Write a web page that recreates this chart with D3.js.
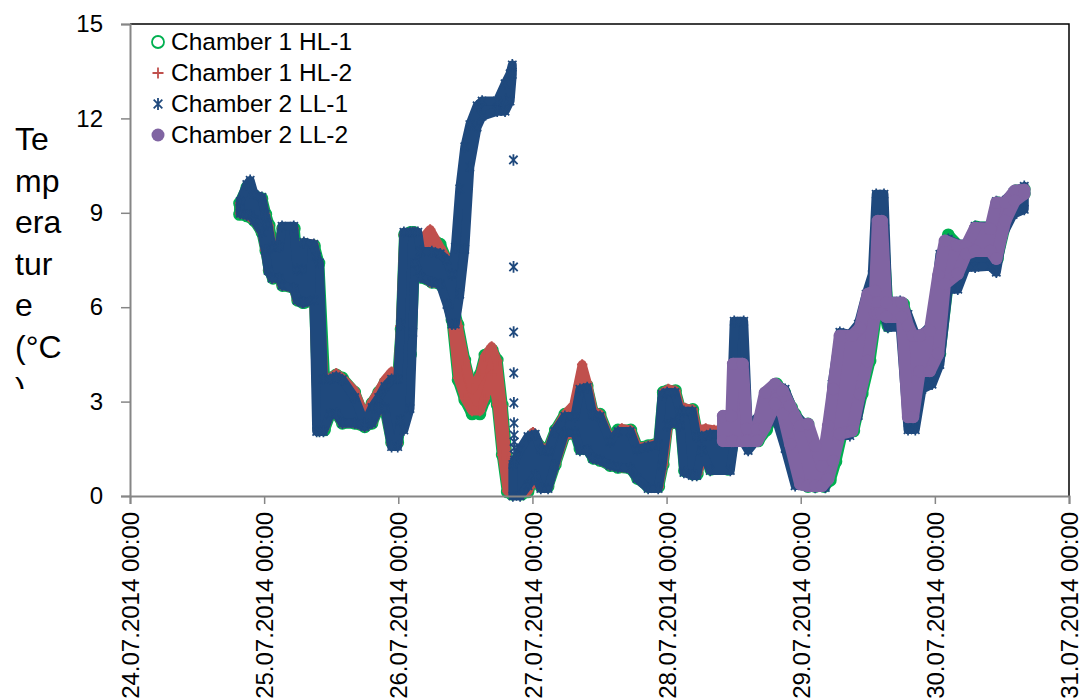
<!DOCTYPE html>
<html>
<head>
<meta charset="utf-8">
<script src="https://cdn.jsdelivr.net/npm/d3@7"></script>
<style>
  body { margin: 0; background: #fff; }
  text { font-family: "Liberation Sans", Arial, sans-serif; fill: #000; }
</style>
</head>
<body>
<svg id="chart" width="1081" height="699"></svg>
<script>
// Logger readings, 24.07.2014 – 30.07.2014.
// Each row: [hours since 24.07.2014 00:00, upper reading (°C), lower reading (°C)]
// Each sensor flickers quickly, so the readings for every moment are kept as a band.
const seriesNames = ["Chamber 1 HL-1", "Chamber 1 HL-2", "Chamber 2 LL-1", "Chamber 2 LL-2"];

const hl1 = [
  [19.6, 9.30, 8.95], [20.9, 9.80, 8.90], [22.2, 9.55, 8.76], [23.6, 9.45, 8.38],
  [24.3, 8.95, 7.80], [24.9, 8.60, 7.17], [25.6, 7.90, 6.92], [26.8, 7.90, 6.92],
  [27.3, 8.50, 6.69], [29.4, 8.50, 6.60], [30.0, 7.20, 6.22], [30.9, 7.20, 6.15],
  [31.2, 8.00, 6.15], [33.0, 7.95, 6.22], [33.8, 7.40, 2.10], [34.8, 3.75, 2.10],
  [35.8, 3.75, 2.59], [36.9, 3.85, 2.62], [38.0, 3.75, 2.31], [40.2, 3.30, 2.31],
  [42.0, 2.45, 2.20], [43.3, 2.95, 2.31], [44.5, 3.30, 2.78], [45.6, 3.60, 2.78],
  [46.8, 3.80, 1.70], [47.9, 3.80, 1.70], [48.5, 5.30, 2.50], [49.1, 8.30, 4.00],
  [50.2, 8.38, 4.50], [50.8, 8.38, 7.00], [52.0, 8.10, 6.95], [54.0, 8.20, 6.79],
  [55.5, 8.00, 6.73], [56.7, 7.50, 6.39], [57.6, 6.23, 5.60], [58.7, 5.44, 3.69],
  [59.9, 4.32, 3.05], [61.2, 3.37, 2.61], [62.6, 3.85, 2.61], [63.5, 4.48, 3.05],
  [64.8, 4.64, 3.85], [65.7, 4.32, 2.89], [66.6, 2.89, 1.30], [67.5, 1.14, 0.13],
  [68.3, 0.41, 0.06], [70.1, 0.41, 0.06], [71.2, 1.62, 0.13], [72.1, 1.94, 0.51],
  [73.5, 1.55, 0.30], [74.8, 1.50, 0.30], [76.1, 2.10, 1.00], [77.8, 2.60, 1.92],
  [79.6, 2.60, 2.02], [80.5, 3.50, 1.50], [81.8, 3.50, 1.50], [82.9, 2.65, 1.20],
  [84.1, 2.60, 1.13], [85.9, 1.80, 0.97], [87.3, 2.10, 0.91], [89.6, 2.10, 0.87],
  [90.8, 1.55, 0.56], [92.7, 1.60, 0.30], [94.6, 1.70, 0.30], [95.4, 3.30, 1.00],
  [96.2, 3.35, 2.24], [97.6, 3.35, 2.34], [98.5, 2.75, 2.24], [99.2, 2.75, 0.80],
  [100.7, 2.75, 0.70], [101.5, 2.00, 0.70], [102.4, 2.00, 1.45], [103.9, 2.00, 0.85],
  [107.0, 2.00, 0.85], [108.0, 2.60, 1.75], [110.4, 2.30, 1.75], [112.4, 2.20, 1.75],
  [113.9, 3.28, 2.10], [115.7, 3.56, 2.85], [117.1, 3.30, 2.55], [118.4, 2.80, 1.60],
  [119.0, 2.60, 1.20], [120.2, 2.30, 0.38], [121.3, 2.29, 0.30], [122.6, 1.50, 0.30],
  [124.2, 0.75, 0.30], [125.3, 2.20, 0.50], [126.3, 3.40, 1.10], [127.4, 5.10, 1.97],
  [129.5, 5.10, 2.07], [131.0, 5.30, 3.24], [132.4, 6.40, 4.29], [133.6, 6.50, 5.79],
  [134.1, 8.60, 5.79], [134.7, 8.60, 5.79], [135.6, 6.00, 5.40], [138.4, 6.10, 5.50],
  [139.5, 5.40, 2.51], [140.4, 5.09, 2.51], [141.6, 5.09, 3.97], [143.4, 5.25, 3.97],
  [144.9, 7.00, 4.52], [146.4, 8.30, 6.74], [148.3, 7.95, 7.06], [149.8, 7.95, 7.69],
  [151.4, 8.55, 7.79], [154.1, 8.55, 7.79], [155.2, 9.32, 7.54], [156.8, 9.32, 8.74],
  [158.5, 9.70, 9.38], [160.0, 9.75, 9.60]
];

const hl2 = [
  [19.7, 9.30, 8.98], [20.9, 9.75, 8.92], [22.2, 9.55, 8.76], [23.6, 9.45, 8.38],
  [24.2, 8.95, 7.80], [24.8, 8.60, 7.17], [25.5, 7.90, 6.92], [26.7, 7.90, 6.92],
  [27.2, 8.50, 6.69], [29.3, 8.50, 6.60], [29.9, 7.20, 6.22], [30.8, 7.20, 6.15],
  [31.1, 8.05, 6.15], [32.9, 8.00, 6.22], [33.6, 7.40, 2.10], [34.7, 3.75, 2.10],
  [35.8, 3.75, 2.59], [36.9, 3.90, 2.62], [38.0, 3.75, 2.31], [40.2, 3.35, 2.31],
  [42.0, 2.55, 2.20], [43.3, 3.00, 2.31], [44.5, 3.35, 2.78], [45.6, 3.70, 2.78],
  [46.8, 3.95, 1.65], [47.9, 3.85, 1.65], [48.4, 5.40, 2.50], [49.0, 8.30, 3.00],
  [50.1, 8.38, 4.00], [50.8, 8.38, 7.00], [52.4, 8.20, 6.95], [53.7, 8.47, 6.79],
  [55.5, 7.90, 6.73], [56.7, 7.55, 6.35], [57.6, 6.30, 5.60], [58.7, 5.40, 3.75],
  [59.9, 4.30, 3.10], [61.2, 3.40, 2.70], [62.6, 3.85, 2.70], [63.5, 4.45, 3.10],
  [64.7, 4.75, 3.85], [65.7, 4.30, 2.90], [66.6, 2.85, 1.30], [67.5, 1.10, 0.15],
  [68.3, 0.40, 0.08], [70.1, 0.40, 0.08], [71.2, 1.60, 0.15], [72.1, 2.03, 0.50],
  [73.5, 1.55, 0.28], [74.8, 1.50, 0.28], [76.1, 2.10, 1.00], [77.8, 2.60, 1.92],
  [79.4, 2.90, 2.00], [80.9, 4.18, 1.50], [81.8, 3.60, 1.50], [82.9, 2.70, 1.20],
  [84.1, 2.60, 1.13], [85.9, 1.80, 0.97], [88.0, 2.15, 0.91], [89.6, 2.10, 0.87],
  [90.8, 1.55, 0.56], [92.7, 1.60, 0.28], [94.6, 1.70, 0.28], [95.4, 3.30, 1.00],
  [96.3, 3.40, 2.24], [97.6, 3.35, 2.34], [98.5, 2.80, 2.24], [99.3, 2.80, 0.80],
  [100.7, 2.75, 0.70], [101.5, 2.10, 0.70], [103.0, 2.15, 1.45], [104.5, 2.10, 0.85],
  [105.7, 2.10, 0.85]
];

// LL-1 before it was pulled out of the warm phase on 26.07
const ll1Warm = [
  [19.7, 9.36, 8.98], [20.9, 9.90, 8.92], [21.5, 10.03, 8.92], [22.2, 9.59, 8.76],
  [23.6, 9.49, 8.38], [24.2, 8.95, 7.80], [24.7, 8.63, 7.17], [25.4, 7.90, 6.92],
  [26.7, 7.93, 6.92], [27.2, 8.57, 6.69], [29.3, 8.57, 6.60], [29.9, 7.20, 6.22],
  [30.8, 7.20, 6.15], [31.1, 8.06, 6.15], [32.9, 8.00, 6.22], [33.4, 7.60, 2.05],
  [33.9, 7.40, 2.05], [34.6, 3.71, 2.05], [35.8, 3.71, 2.59], [36.9, 3.80, 2.62],
  [38.0, 3.70, 2.31], [40.2, 3.13, 2.31], [42.0, 2.30, 2.20], [43.3, 2.81, 2.31],
  [44.5, 3.13, 2.78], [45.6, 3.48, 2.78], [46.8, 3.71, 1.57], [47.9, 3.71, 1.57],
  [48.4, 5.45, 2.40], [49.0, 8.38, 2.10], [50.1, 8.38, 2.78], [50.6, 8.38, 5.20],
  [51.0, 8.38, 7.40], [51.5, 8.38, 7.14], [52.0, 7.77, 6.95], [54.0, 7.77, 6.79],
  [55.5, 7.70, 6.73], [56.7, 7.50, 6.09], [57.6, 7.04, 5.46], [58.2, 7.90, 5.46],
  [59.0, 9.76, 6.41], [59.9, 11.10, 7.84], [60.8, 11.80, 10.45], [62.1, 12.40, 11.72],
  [63.0, 12.55, 12.07], [65.7, 12.55, 12.23], [67.1, 13.10, 12.23], [68.0, 13.42, 12.55],
  [68.4, 13.70, 13.40]
];

// LL-1 single readings while it cooled on 26.07 evening: [hours, °C]
const ll1Drop = [
  [68.60, 10.68], [68.62, 7.28], [68.64, 5.21], [68.66, 3.91], [68.68, 2.96],
  [68.70, 2.32], [68.72, 1.94], [68.74, 1.72], [68.76, 1.53], [68.78, 1.30], [68.80, 1.14]
];

// LL-1 from 26.07 evening to the end of the record
const ll1Cold = [
  [68.5, 1.00, 0.00], [69.8, 1.48, 0.00], [71.2, 1.89, 0.33], [72.5, 1.96, 0.65],
  [73.5, 1.48, 0.24], [74.8, 1.42, 0.24], [76.0, 2.05, 0.97], [77.8, 2.53, 2.02],
  [79.6, 2.53, 2.02], [80.5, 3.39, 1.45], [81.8, 3.45, 1.45], [82.8, 2.59, 1.19],
  [84.1, 2.53, 1.13], [85.9, 1.73, 0.97], [87.3, 2.05, 0.91], [89.5, 2.05, 0.87],
  [90.7, 1.48, 0.56], [92.7, 1.57, 0.24], [94.5, 1.64, 0.24], [95.2, 3.23, 0.97],
  [96.1, 3.29, 2.24], [97.5, 3.29, 2.34], [98.4, 2.69, 2.24], [99.1, 2.69, 0.75],
  [100.6, 2.69, 0.65], [101.4, 1.89, 0.65], [102.3, 1.89, 1.45], [103.8, 1.96, 0.81],
  [107.4, 1.96, 0.81], [108.1, 5.55, 1.70], [109.8, 5.55, 1.70], [110.6, 2.18, 1.45],
  [112.7, 2.59, 1.92], [115.4, 3.55, 2.56], [117.2, 3.39, 1.51], [119.0, 2.59, 0.33],
  [120.8, 2.27, 0.33], [122.6, 1.32, 0.27], [124.4, 0.68, 0.27], [125.6, 3.55, 0.97],
  [127.0, 5.20, 1.92], [128.8, 5.14, 1.92], [130.3, 5.46, 2.56], [131.7, 6.41, 4.15],
  [132.8, 7.04, 5.74], [133.5, 9.59, 5.74], [134.9, 9.59, 5.74], [135.6, 6.19, 5.36],
  [137.8, 6.19, 5.36], [139.2, 5.77, 2.11], [140.5, 5.14, 2.11], [141.7, 5.14, 3.39],
  [143.5, 5.46, 3.55], [144.9, 7.68, 4.18], [146.4, 8.16, 6.57], [148.1, 8.00, 6.57],
  [149.6, 8.00, 7.27], [151.2, 8.57, 7.27], [153.9, 8.57, 7.30], [155.0, 9.36, 7.11],
  [156.2, 9.36, 8.31], [158.0, 9.65, 8.95], [160.0, 9.84, 9.11]
];

const ll2 = [
  [106.1, 2.54, 1.75], [107.6, 2.54, 1.75], [107.9, 4.20, 1.75], [109.6, 4.20, 1.75],
  [110.4, 2.13, 1.75], [112.2, 2.13, 1.75], [113.6, 3.28, 2.19], [115.4, 3.56, 2.93],
  [116.8, 3.34, 2.61], [118.1, 2.86, 1.65], [119.9, 2.23, 0.38], [121.3, 2.29, 0.32],
  [122.6, 1.59, 0.32], [123.8, 0.95, 0.32], [124.9, 2.23, 0.54], [125.8, 3.40, 1.11],
  [127.0, 5.09, 1.97], [129.2, 5.09, 2.07], [130.6, 5.34, 3.24], [132.0, 6.42, 4.29],
  [133.3, 6.52, 5.79], [133.8, 8.74, 5.79], [134.5, 8.74, 5.79], [135.3, 6.14, 5.69],
  [138.1, 6.14, 5.69], [139.2, 5.41, 2.51], [140.1, 5.09, 2.51], [141.3, 5.09, 3.97],
  [143.1, 5.25, 3.97], [144.6, 7.00, 4.52], [145.8, 8.11, 6.74], [148.1, 7.95, 7.06],
  [149.6, 7.95, 7.69], [151.2, 8.52, 7.79], [153.9, 8.49, 7.79], [155.0, 9.32, 7.54],
  [156.6, 9.32, 8.74], [158.3, 9.70, 9.38], [160.0, 9.73, 9.60]
];

const yTicks = [0, 3, 6, 9, 12, 15];
const dayTicks = [24, 25, 26, 27, 28, 29, 30, 31];          // days of July 2014
const yTitleLines = ["Te", "mp", "era", "tur", "e", "(°C", ")"];

const colors = { hl1: "#00b050", hl2: "#c0504d", ll1: "#1f497d", ll2: "#8064a2" };

const svg = d3.select("#chart");
const plot = { left: 130, right: 1069, top: 24, bottom: 496 };

const start = Date.UTC(2014, 6, 24);
const toDate = h => new Date(start + h * 36e5);

const x = d3.scaleUtc()
  .domain([new Date(Date.UTC(2014, 6, 24)), new Date(Date.UTC(2014, 6, 31))])
  .range([plot.left, plot.right]);
const y = d3.scaleLinear().domain([0, 15]).range([plot.bottom, plot.top]);

// plot frame: top and right edges
svg.append("path")
  .attr("d", `M${plot.left},${plot.top}H${plot.right}V${plot.bottom}`)
  .attr("fill", "none").attr("stroke", "#000").attr("stroke-width", 1.5);

// marker shapes
const markers = {
  circle: r => `M${-r},0a${r},${r} 0 1,0 ${2 * r},0a${r},${r} 0 1,0 ${-2 * r},0`,
  plus: r => `M${-r},0H${r}M0,${-r}V${r}`,
  star: r => { const d = r * 0.72; return `M0,${-r}V${r}M${-d},${-d}L${d},${d}M${-d},${d}L${d},${-d}`; }
};

const band = d3.area()
  .x(d => x(toDate(d[0])))
  .y0(d => y(d[2]))
  .y1(d => y(d[1]));

function drawBand(rows, color, width) {
  svg.append("path").datum(rows)
    .attr("d", band)
    .attr("fill", color)
    .attr("stroke", color)
    .attr("stroke-width", width)
    .attr("stroke-linejoin", "round");
}

function drawMarks(points, shape, r, style) {
  svg.append("g").selectAll("path").data(points).join("path")
    .attr("transform", d => `translate(${x(toDate(d[0]))},${y(d[1])})`)
    .attr("d", markers[shape](r))
    .attr("fill", style.fill || "none")
    .attr("stroke", style.stroke || "none")
    .attr("stroke-width", style.sw || 0);
}

const edges = rows => rows.flatMap(d => [[d[0], d[1]], [d[0], d[2]]]);

// Chamber 1 HL-1: open green circles
drawBand(hl1, colors.hl1, 11);
drawMarks(edges(hl1), "circle", 5.5, { stroke: colors.hl1, sw: 1.8 });

// Chamber 1 HL-2: red plus signs
drawBand(hl2, colors.hl2, 9);
drawMarks(edges(hl2), "plus", 5.2, { stroke: colors.hl2, sw: 2 });

// Chamber 2 LL-1: blue stars
drawBand(ll1Warm, colors.ll1, 9);
drawBand(ll1Cold, colors.ll1, 9);
drawMarks(edges(ll1Warm).concat(edges(ll1Cold)), "star", 5.8, { stroke: colors.ll1, sw: 1.7 });
drawMarks(ll1Drop, "star", 5.8, { stroke: colors.ll1, sw: 1.8 });

// Chamber 2 LL-2: filled purple circles
drawBand(ll2, colors.ll2, 12);
drawMarks(edges(ll2), "circle", 6.2, { fill: colors.ll2 });

// axes
const axisColor = "#868686";
const yAxis = svg.append("g").attr("transform", `translate(${plot.left},0)`)
  .call(d3.axisLeft(y).tickValues(yTicks).tickSize(9).tickPadding(18).tickFormat(d3.format("d")));
const xAxis = svg.append("g").attr("transform", `translate(0,${plot.bottom})`)
  .call(d3.axisBottom(x)
    .tickValues(dayTicks.map(d => new Date(Date.UTC(2014, 6, d))))
    .tickSize(8)
    .tickFormat(d3.utcFormat("%d.%m.%Y %H:%M")));

[yAxis, xAxis].forEach(a => {
  a.select(".domain").attr("stroke", axisColor).attr("stroke-width", 2);
  a.selectAll(".tick line").attr("stroke", axisColor).attr("stroke-width", 1.5);
  a.selectAll("text").attr("fill", "#000").style("font-size", "24px")
    .style("font-family", "'Liberation Sans', Arial, sans-serif");
});
xAxis.selectAll("text")
  .attr("transform", "rotate(-90)")
  .attr("x", -16).attr("y", 0).attr("dy", "0.36em")
  .style("text-anchor", "end");

// y-axis title, wrapped into a narrow clipped box
svg.append("clipPath").attr("id", "ytitle-clip")
  .append("rect").attr("x", 0).attr("y", 100).attr("width", 100).attr("height", 289);
svg.append("g").attr("clip-path", "url(#ytitle-clip)")
  .selectAll("text").data(yTitleLines).join("text")
  .attr("x", 15).attr("y", (d, i) => 150 + i * 41.6)
  .style("font-size", "32px")
  .text(d => d);

// legend
const legendItems = [
  { name: seriesNames[0], shape: "circle", r: 6, style: { stroke: colors.hl1, sw: 1.8 } },
  { name: seriesNames[1], shape: "plus", r: 5.5, style: { stroke: colors.hl2, sw: 1.8 } },
  { name: seriesNames[2], shape: "star", r: 6, style: { stroke: colors.ll1, sw: 1.8 } },
  { name: seriesNames[3], shape: "circle", r: 6.5, style: { fill: colors.ll2 } }
];
const legend = svg.append("g").selectAll("g").data(legendItems).join("g")
  .attr("transform", (d, i) => `translate(158,${42 + i * 31})`);
legend.append("path")
  .attr("d", d => markers[d.shape](d.r))
  .attr("fill", d => d.style.fill || "none")
  .attr("stroke", d => d.style.stroke || "none")
  .attr("stroke-width", d => d.style.sw || 0);
legend.append("text")
  .attr("x", 13).attr("y", 8)
  .style("font-size", "24.5px")
  .text(d => d.name);
</script>
</body>
</html>
